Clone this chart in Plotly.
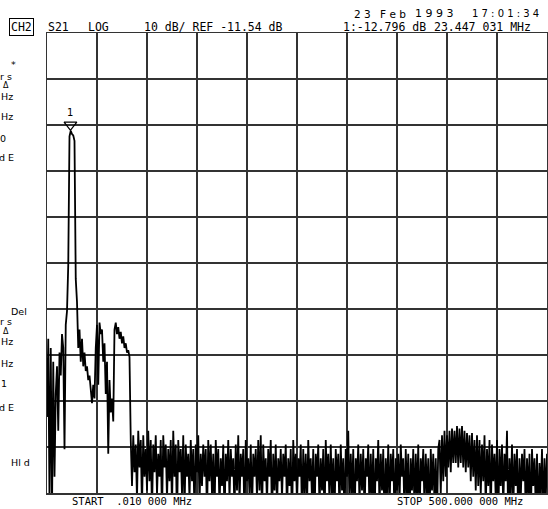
import numpy as np
import plotly.graph_objects as go

# ---------------- instrument settings ----------------
START_MHZ = 0.01
STOP_MHZ = 500.0
REF_DB = -11.54
SCALE_DB_PER_DIV = 10
REF_POS_DIV = 8          # reference line position (divisions from bottom)
N_DIV = 10

MARKER_FREQ_MHZ = 23.447031
MARKER_DB = -12.796

# ---------------- trace values (dB) ----------------
low_band_db = [-75, -58, -93, -60, -96, -63, -88]

main_lobe_db = [-70, -64, -78, -61, -66, -57, -60, -82, -55, -52,
                -42, -14, -12.8, -13.5, -13.8, -15, -45, -50, -60, -56,
                -63, -58, -64, -61, -65, -64, -67, -66, -69, -72,
                -68, -71, -60, -55, -68, -54.5, -57, -56, -63, -59,
                -70, -63, -83, -67, -74, -71, -76, -56, -54.5, -57,
                -55.5, -58, -56.5, -59, -57.5, -60, -59, -61, -60.5, -62]

floor_a_db = [-80, -90, -79, -87, -81, -93, -78, -86, -80, -95, -79, -88, -82, -91, -78, -89, -80, -96, -81, -87,
              -79, -92, -83, -88, -80, -97, -79, -86, -81, -93, -82, -89, -80, -95, -78, -88, -81, -98, -80, -87,
              -82, -92, -79, -96, -81, -88, -83, -93, -80, -89, -82, -97, -81, -87, -79, -94, -83, -90, -81, -88,
              -82, -97, -80, -89]

floor_b_db = [-81, -92, -83, -97, -80, -88, -82, -95, -84, -90, -81, -98, -83, -89, -80, -93, -82, -88, -84, -96,
              -81, -91, -79, -94, -83, -88, -82, -99, -80, -89, -84, -92, -81, -96, -83, -88, -82, -93, -80, -91,
              -79, -97, -81, -89, -84, -94, -82, -88, -80, -98, -83, -91, -81, -95, -84, -89, -82, -93, -83, -88,
              -81, -96, -84, -90, -82, -99, -80, -89, -83, -94, -84, -88, -81, -97, -82, -92, -83, -95, -80, -89,
              -84, -93, -82, -98, -83, -88, -81, -95, -84, -91, -82, -99, -80, -89, -83, -94, -81, -92, -84, -97,
              -82, -89, -83, -96, -81, -91, -84, -98, -82, -88, -78, -95, -83, -92, -82, -99, -84, -89, -81, -94,
              -83, -91, -82, -97, -84, -88, -81, -96, -83, -93, -82, -98, -84, -89, -80, -95, -83, -91, -82, -99,
              -84, -92, -81, -96, -83, -89, -82, -98, -84, -91, -83, -94, -81, -88, -84, -97, -82, -92, -83, -99,
              -84, -91, -82, -96, -83, -93, -81, -98, -84, -89, -82, -95, -83, -92, -84, -99, -82, -91, -83, -94,
              -84, -97, -82]

hump_db = [-80, -92, -79, -89, -78, -88, -79, -86, -78, -87, -77.5, -85, -78, -85, -77, -86,
           -77.5, -85, -77, -86, -78, -87, -78.5, -86, -79, -89, -78.5, -88, -80, -91, -79, -90]

floor_d_db = [-80, -92, -81, -89, -79, -95, -82, -90, -80, -97, -81, -89, -83, -93, -80, -98, -82, -90, -81, -95,
              -83, -89, -78, -99, -84, -92, -81, -96, -83, -90, -82, -98, -84, -93, -83, -89, -82, -97, -84, -92,
              -83, -99, -82, -90, -84, -95, -83, -98, -85, -92, -82, -97, -84, -93, -83]

s21_db = low_band_db + main_lobe_db + floor_a_db + floor_b_db + hump_db + floor_d_db
freq_mhz = np.linspace(START_MHZ, STOP_MHZ, len(s21_db))

# ---------------- axis ranges ----------------
y_top = REF_DB + (N_DIV - REF_POS_DIV) * SCALE_DB_PER_DIV
y_bot = REF_DB - REF_POS_DIV * SCALE_DB_PER_DIV

W, H = 548, 509
ML, MR, MT, MB = 47, 1, 33, 16
PW, PH = W - ML - MR, H - MT - MB

def px(x):
    return (x - ML) / PW

def py(y):
    return (H - MB - y) / PH

fig = go.Figure()
fig.add_trace(go.Scatter(x=freq_mhz, y=s21_db, mode="lines",
                         line=dict(color="black", width=1.8), hoverinfo="skip"))

# marker triangle just above the trace point
tri_offset_db = 6 * SCALE_DB_PER_DIV / (PH / N_DIV)
fig.add_trace(go.Scatter(x=[MARKER_FREQ_MHZ], y=[MARKER_DB + tri_offset_db], mode="markers",
                         marker=dict(symbol="triangle-down-open", size=11, color="black",
                                     line=dict(color="black", width=1.3)),
                         hoverinfo="skip"))

FONT = "DejaVu Sans Mono"
ann = []

def txt(x, y, s, size=11.5, family=FONT, **kw):
    d = dict(x=px(x), y=py(y), xref="paper", yref="paper", text=s, showarrow=False,
             xanchor="left", yanchor="middle", font=dict(family=family, size=size, color="black"))
    d.update(kw)
    ann.append(d)

# header row 1 (date / time)
txt(352, 14, "2 3", family="DejaVu Sans", size=10.5)
txt(378, 14, "F e b", family="DejaVu Sans", size=10.5)
txt(413, 14, "1 9 9 3", family="DejaVu Sans", size=11)
txt(470, 14, "1 7 : 0 1 : 3 4", family="DejaVu Sans", size=10)
# header row 2
txt(9, 27, "CH2", bordercolor="black", borderwidth=1, borderpad=1)
txt(46, 27, "S21")
txt(86, 27, "LOG")
txt(142, 27, "10 dB/ REF -11.54 dB")
txt(341, 27, "1:-12.796 dB")
txt(432, 27, "23.447 031 MHz")

# left softkey fragments (cut off by the screen edge)
SK = 9.5
txt(9, 64, "*", size=SK, family="DejaVu Sans")
txt(-2, 76, "r s", size=SK, family="DejaVu Sans")
txt(1, 85, "Δ", size=SK - 1.5, family="DejaVu Sans")
txt(-1, 96, "Hz", size=SK, family="DejaVu Sans")
txt(-1, 117, "Hz", size=SK, family="DejaVu Sans")
txt(-2, 138, "0", size=SK, family="DejaVu Sans")
txt(-3, 157, "d E", size=SK, family="DejaVu Sans")

txt(9, 311, "Del", size=SK, family="DejaVu Sans")
txt(-2, 321, "r s", size=SK, family="DejaVu Sans")
txt(1, 331, "Δ", size=SK - 1.5, family="DejaVu Sans")
txt(-1, 341, "Hz", size=SK, family="DejaVu Sans")
txt(-1, 363, "Hz", size=SK, family="DejaVu Sans")
txt(-1, 383, "1", size=SK, family="DejaVu Sans")
txt(-3, 407, "d E", size=SK, family="DejaVu Sans")
txt(9, 462, "Hl d", size=SK, family="DejaVu Sans")

# bottom start/stop
txt(70, 501, "START  .010 000 MHz", size=10.5)
txt(395, 501, "STOP 500.000 000 MHz", size=10.5)

# marker number
ann.append(dict(x=MARKER_FREQ_MHZ, y=MARKER_DB, xref="x", yref="y", text="1", showarrow=False,
                yshift=18, font=dict(family="DejaVu Sans", size=10, color="black")))

grid_col = "#333333"
fig.update_layout(
    width=W, height=H,
    margin=dict(l=ML, r=MR, t=MT, b=MB, pad=0, autoexpand=False),
    paper_bgcolor="white", plot_bgcolor="white",
    showlegend=False,
    annotations=ann,
    xaxis=dict(range=[START_MHZ, STOP_MHZ], tick0=START_MHZ, dtick=(STOP_MHZ - START_MHZ) / N_DIV,
               showticklabels=False, ticks="", showgrid=True, gridcolor=grid_col, gridwidth=1.5,
               zeroline=False, showline=True, mirror=True, linecolor=grid_col, linewidth=1.5),
    yaxis=dict(range=[y_bot, y_top], tick0=y_bot, dtick=SCALE_DB_PER_DIV,
               showticklabels=False, ticks="", showgrid=True, gridcolor=grid_col, gridwidth=1.5,
               zeroline=False, showline=True, mirror=True, linecolor=grid_col, linewidth=1.5),
)

fig.write_html("out.html", config={"displayModeBar": False, "staticPlot": True},
               post_script="document.body.style.margin='0';document.body.style.overflow='hidden';")
